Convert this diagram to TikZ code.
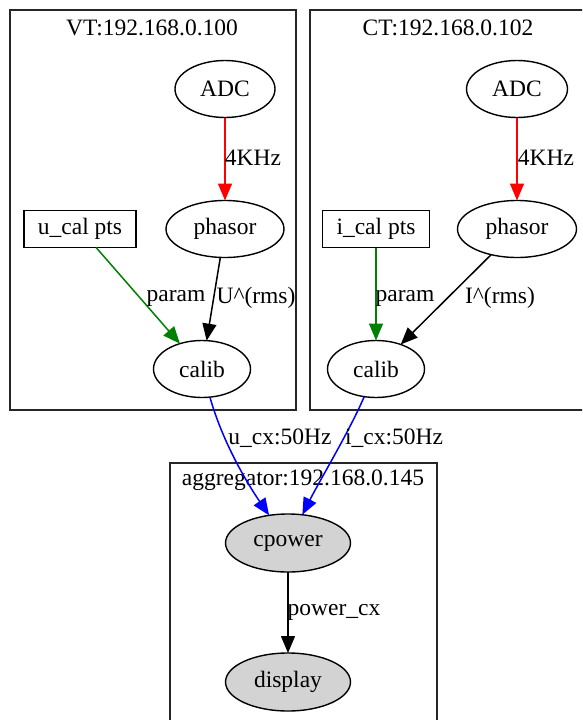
\documentclass[tikz,border=0pt]{standalone}
\usepackage{fontspec}
\setmainfont{Liberation Serif}
\usetikzlibrary{arrows.meta,shapes.geometric}
\definecolor{gvgreen}{HTML}{008000}
\definecolor{gvgray}{HTML}{D3D3D3}
\begin{document}
\begin{tikzpicture}[x=1pt,y=-1pt,
  font=\fontsize{23.5}{28}\selectfont,
  every node/.style={inner sep=0pt, outer sep=0pt},
  ell/.style={draw, ellipse, line width=1.4pt, minimum width=#1, minimum height=57pt},
  boxnode/.style={draw, rectangle, line width=1.4pt, minimum width=#1, minimum height=37pt},
  grayfill/.style={fill=gvgray},
  cluster/.style={draw=black!85, line width=1.5pt},
  edge/.style={line width=1.5pt, -{Triangle[length=17pt,width=14pt]}},
  lbl/.style={anchor=center}
]
\clip (0,0) rectangle (582,720);
\fill[white] (0,0) rectangle (582,720);

% clusters
\draw[cluster] (10,10) rectangle (296,410);
\draw[cluster] (310,10) rectangle (600,410);
\draw[cluster] (170,463) rectangle (437,740);
\node (vttitle) at (152,28) {VT:192.168.0.100};
\node (cttitle) at (448,28) {CT:192.168.0.102};
\node (agtitle) at (303,480) {aggregator:192.168.0.145};

% VT nodes
\node[ell=100pt] (vtadc) at (225,89) {ADC};
\node[ell=118pt] (vtph) at (225,229) {phasor};
\node[boxnode=112pt] (ucal) at (80,229) {u\_cal pts};
\node[ell=97pt] (vtcal) at (202,369) {calib};

% CT nodes
\node[ell=101pt] (ctadc) at (517,89) {ADC};
\node[ell=119pt] (ctph) at (517,229) {phasor};
\node[boxnode=107pt] (ical) at (376,229) {i\_cal pts};
\node[ell=97pt] (ctcal) at (376,369) {calib};

% aggregator nodes
\node[ell=125pt, grayfill, minimum height=58pt] (cpower) at (288,543) {cpower};
\node[ell=125pt, grayfill, minimum height=58pt] (display) at (288,682) {display};

% VT edges
\draw[edge, red] (vtadc) -- (vtph);
\node[lbl] (l1) at (253,158) {4KHz};
\draw[edge] (vtph) -- (vtcal);
\node[lbl] (l2) at (256,298) {U\textasciicircum(rms)};
\draw[edge, gvgreen] (ucal) -- (vtcal);
\node[lbl] (l3) at (176,298) {param};

% CT edges
\draw[edge, red] (ctadc) -- (ctph);
\node[lbl] (l4) at (546,158) {4KHz};
\draw[edge] (ctph) -- (ctcal);
\node[lbl] (l5) at (500,298) {I\textasciicircum(rms)};
\draw[edge, gvgreen] (ical) -- (ctcal);
\node[lbl] (l6) at (405,298) {param};

% inter-cluster edges
\draw[edge, blue] (vtcal) .. controls (222,440) and (245,480) .. (cpower);
\node[lbl] (l7) at (280,438) {u\_cx:50Hz};
\draw[edge, blue] (ctcal) .. controls (350,430) and (320,480) .. (cpower);
\node[lbl] (l8) at (394,438) {i\_cx:50Hz};

% aggregator edge
\draw[edge] (cpower) -- (display);
\node[lbl] (l9) at (334,612) {power\_cx};
\end{tikzpicture}
\end{document}
